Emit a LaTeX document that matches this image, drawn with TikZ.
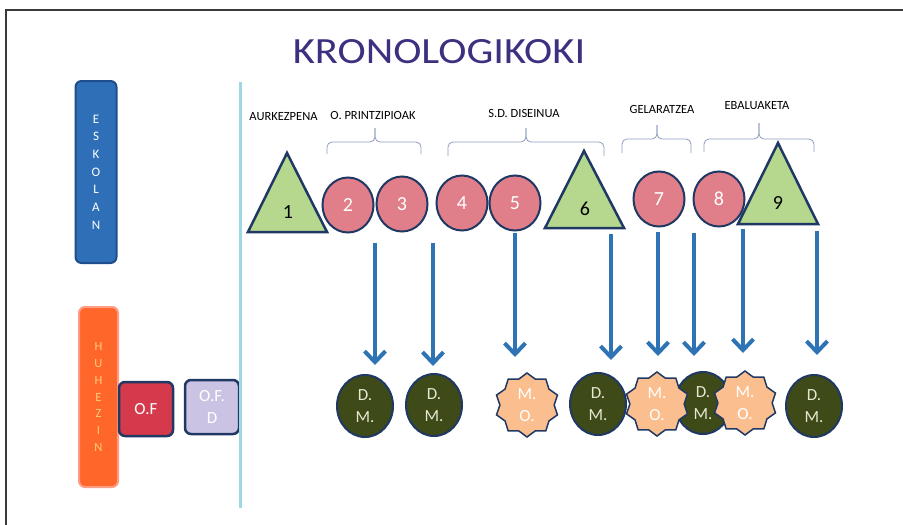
\documentclass[tikz,border=0pt]{standalone}
\usepackage{fontspec}
\setmainfont{Carlito}
\usetikzlibrary{shapes.geometric,arrows.meta}

\definecolor{titlepurple}{HTML}{3B3180}
\definecolor{framegray}{HTML}{3A3A3A}
\definecolor{navy}{HTML}{203864}
\definecolor{eskblue}{HTML}{2E6FB7}
\definecolor{eskborder}{HTML}{1E4E8C}
\definecolor{huhorange}{HTML}{FF672A}
\definecolor{huhborder}{HTML}{FF9C86}
\definecolor{huhtext}{HTML}{FFCC7A}
\definecolor{ofred}{HTML}{D43A4C}
\definecolor{ofdlav}{HTML}{CBC3E3}
\definecolor{divider}{HTML}{9ED8E3}
\definecolor{trigreen}{HTML}{B5D78E}
\definecolor{pink}{HTML}{E07F89}
\definecolor{bracecol}{HTML}{8C9DBE}
\definecolor{arrowblue}{HTML}{2E74B5}
\definecolor{olive}{HTML}{3E4A18}
\definecolor{peach}{HTML}{FBBF8F}
\definecolor{cream}{HTML}{E6E8D2}

\tikzset{
  sidebox/.style={rectangle, rounded corners=6pt, line width=2pt, inner sep=0pt, align=center},
  ofbox/.style={rectangle, rounded corners=6pt, draw=navy, line width=2.5pt, inner sep=0pt,
    minimum width=54pt, minimum height=54pt, text=white, align=center,
    font=\fontsize{17}{22}\selectfont},
  stage/.style={ellipse, draw=navy, fill=pink, line width=2pt, inner sep=0pt,
    minimum width=51pt, minimum height=55pt, text=white, font=\fontsize{20}{20}\selectfont},
  tri/.style={draw=navy, fill=trigreen, line width=2.5pt, line join=miter},
  trinum/.style={inner sep=0pt, font=\fontsize{20}{20}\selectfont},
  phase/.style={inner sep=0pt, font=\fontsize{12.5}{13}\selectfont},
  brc/.style={draw=bracecol, line width=0.8pt, rounded corners=5pt},
  dm/.style={ellipse, draw=navy, fill=olive, line width=2pt, inner sep=0pt,
    minimum width=56pt, minimum height=62pt, text=cream, align=center,
    font=\fontsize{17}{22}\selectfont},
  mo/.style={star, star points=10, star point ratio=1.18, draw=navy, fill=peach,
    line width=1.5pt, inner sep=0pt, minimum size=64pt, text=white, align=center,
    font=\fontsize{17}{22}\selectfont},
  flow/.style={draw=arrowblue, line width=4pt,
    -{Straight Barb[length=11pt,width=21pt]}}
}

\begin{document}
\begin{tikzpicture}[x=1pt,y=-1pt]
\useasboundingbox (0,0) rectangle (903,525);
\fill[white] (0,0) rectangle (903,525);

% page frame
\draw[framegray, line width=1.5pt] (903,10) -- (6,10) -- (6,525);

% title
\node[text=titlepurple, font=\fontsize{37}{37}\selectfont, inner sep=0pt,
  xscale=1.15, transform shape] (title) at (439,52) {KRONOLOGIKOKI};

% left column
\node[sidebox, fill=eskblue, draw=eskborder, minimum width=41pt, minimum height=182pt,
  text=white, font=\fontsize{13}{17.7}\selectfont] (eskolan) at (96,172) {E\\S\\K\\O\\L\\A\\N};
\node[sidebox, fill=huhorange, draw=huhborder, minimum width=39pt, minimum height=180pt,
  text=huhtext, font=\fontsize{12.5}{16.8}\selectfont] (huhezin) at (98.5,397) {H\\U\\H\\E\\Z\\I\\N};
\node[ofbox, fill=ofred] (of) at (146,409) {O.F};
\node[ofbox, fill=ofdlav] (ofd) at (212,407) {O.F.\\D};

% divider
\draw[divider, line width=3pt] (240,82) -- (240,508);

% phase labels
\node[phase] (p1) at (283.5,117) {AURKEZPENA};
\node[phase] (p2) at (373,115) {O. PRINTZIPIOAK};
\node[phase] (p3) at (524,113) {S.D. DISEINUA};
\node[phase] (p4) at (662,109) {GELARATZEA};
\node[phase] (p5) at (757,106) {EBALUAKETA};

% braces
\draw[brc] (327,154) |- (375,142) -- (375,128);
\draw[brc] (421,154) |- (375,142) -- (375,128);
\draw[brc] (448,156) |- (526,142) -- (526,128);
\draw[brc] (604,156) |- (526,142) -- (526,128);
\draw[brc] (622,153) |- (657,139) -- (657,125);
\draw[brc] (691,153) |- (657,139) -- (657,125);
\draw[brc] (704,152) |- (759,139) -- (759,123);
\draw[brc] (814,152) |- (759,139) -- (759,123);

% sessions: triangles
\draw[tri] (287,153) -- (327,232) -- (248,232) -- cycle;
\node[trinum] (t1) at (288,212) {1};
\draw[tri] (584,151) -- (624,228) -- (545,228) -- cycle;
\node[trinum] (t6) at (585,209) {6};
\draw[tri] (778,143) -- (818,224) -- (738,224) -- cycle;
\node[trinum] (t9) at (778,203) {9};

% sessions: circles
\node[stage] (c2) at (348,205) {2};
\node[stage] (c3) at (402,204) {3};
\node[stage] (c4) at (462,203) {4};
\node[stage] (c5) at (515,203) {5};
\node[stage] (c7) at (659,199) {7};
\node[stage] (c8) at (719,199) {8};

% outcomes
\node[dm] (dm1) at (365,406) {D.\\M.};
\node[dm] (dm2) at (434,405) {D.\\M.};
\node[mo] (mo1) at (527,405) {M.\\O.};
\node[dm] (dm3) at (598,404) {D.\\M.};
\node[dm] (dm4) at (703,403) {D.\\M.};
\node[mo] (mo2) at (657,404) {M.\\O.};
\node[mo] (mo3) at (745,403) {M.\\O.};
\node[dm] (dm5) at (814,406) {D.\\M.};

% arrow ends
\coordinate (s1) at (375,243); \coordinate (e1) at (375,365);
\coordinate (s2) at (433,243); \coordinate (e2) at (433,366);
\coordinate (s3) at (515,233); \coordinate (e3) at (515,357);
\coordinate (s4) at (611,234); \coordinate (e4) at (611,360);
\coordinate (s5) at (658,232); \coordinate (e5) at (658,356);
\coordinate (s6) at (694,233); \coordinate (e6) at (694,356);
\coordinate (s7) at (743,229); \coordinate (e7) at (743,353);
\coordinate (s8) at (817,231); \coordinate (e8) at (817,355);

\foreach \i in {1,...,8} \draw[flow] (s\i) -- (e\i);
\end{tikzpicture}
\end{document}
